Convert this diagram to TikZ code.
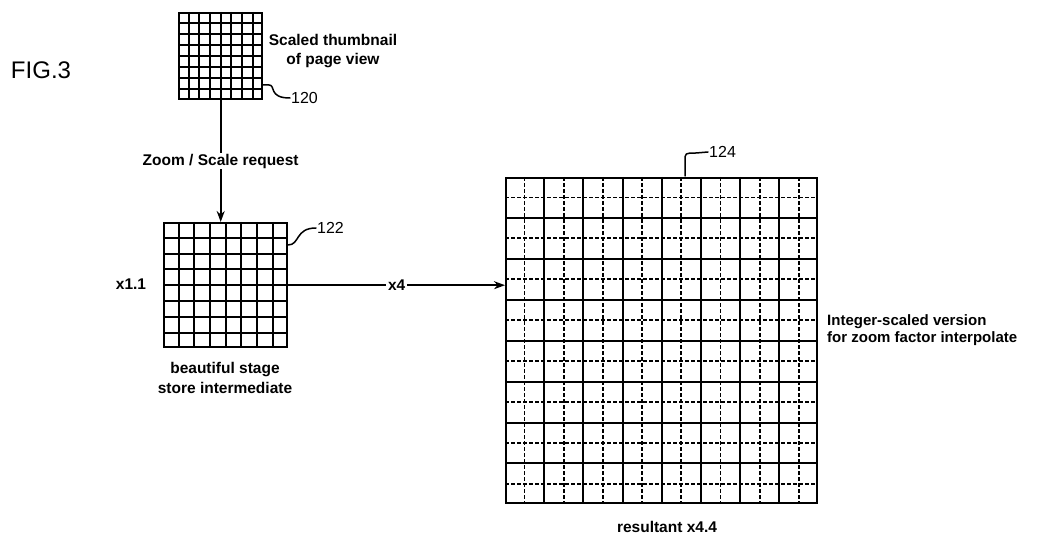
\documentclass[tikz,border=0pt]{standalone}
\usepackage{fontspec}
\setmainfont{Liberation Sans}
\usetikzlibrary{calc,arrows.meta}
\begin{document}
\begin{tikzpicture}[x=1pt,y=-1pt,
  lbl/.style={font=\fontsize{15.5}{19}\selectfont\bfseries, align=center, inner sep=1pt},
  hand/.style={font=\fontsize{16}{18}\selectfont, inner sep=1pt},
  gridbox/.style={draw, line width=2.4pt, inner sep=0pt, anchor=north west},
  gline/.style={line width=2pt},
  dline/.style={line width=1.8pt, dash pattern=on 4pt off 2pt},
  conn/.style={line width=1.8pt},
  arr/.style={conn, -{Stealth[length=11pt,width=8pt]}},
  lead/.style={line width=1.5pt, line cap=round}
]
\useasboundingbox (0,0) rectangle (1047,540);

% thumbnail 120
\node[gridbox, minimum width=83pt, minimum height=86pt] (thumb) at (178,12) {};
\foreach \i in {1,...,7} {
  \draw[gline] ($(thumb.north west)!\i/8!(thumb.north east)$) -- ($(thumb.south west)!\i/8!(thumb.south east)$);
  \draw[gline] ($(thumb.north west)!\i/8!(thumb.south west)$) -- ($(thumb.north east)!\i/8!(thumb.south east)$);
}

% intermediate 122
\node[gridbox, minimum width=123pt, minimum height=124pt] (mid) at (163,222) {};
\foreach \i in {1,...,7} {
  \draw[gline] ($(mid.north west)!\i/8!(mid.north east)$) -- ($(mid.south west)!\i/8!(mid.south east)$);
  \draw[gline] ($(mid.north west)!\i/8!(mid.south west)$) -- ($(mid.north east)!\i/8!(mid.south east)$);
}

% big 124
\node[gridbox, minimum width=311pt, minimum height=325pt] (big) at (505,177) {};
\foreach \i in {1,...,15} {
  \ifodd\i \def\st{dline}\else\def\st{gline}\fi
  \draw[\st] ($(big.north west)!\i/16!(big.north east)$) -- ($(big.south west)!\i/16!(big.south east)$);
  \draw[\st] ($(big.north west)!\i/16!(big.south west)$) -- ($(big.north east)!\i/16!(big.south east)$);
}

% texts
\node[lbl] (tlab) at (333,51) {Scaled thumbnail\\of page view};
\node[lbl] (x11) at (131,284) {x1.1};
\node[lbl, font=\fontsize{15.5}{20}\selectfont\bfseries] (blab) at (225,378) {beautiful stage\\store intermediate};
\node[lbl, anchor=west, align=left, font=\fontsize{15}{17}\selectfont\bfseries] (ilab) at (826,330) {Integer-scaled version\\for zoom factor interpolate};
\node[lbl] (rlab) at (667,527) {resultant x4.4};
\node[hand, font=\fontsize{24}{26}\selectfont] (fig) at (41,70) {FIG.3};
\node[hand, anchor=west] (n120) at (290,98) {120};
\node[hand, anchor=west] (n122) at (316,228) {122};
\node[hand, anchor=west] (n124) at (708,152) {124};

% connectors
\draw[arr] (thumb.south) -- node[lbl, fill=white]{Zoom / Scale request} (thumb.south |- mid.north);
\draw[arr] (mid.east) -- node[lbl, fill=white, inner xsep=2pt]{x4} (mid.east -| big.west);

% leaders
\coordinate (c120) at (262,85);
\coordinate (c122) at (288,245);
\coordinate (c124) at (685,176);
\draw[lead] (c120) -- (269,85) .. controls (276,85) and (268,98) .. (n120.west);
\draw[lead] (c122) .. controls (300,245) and (295,228) .. (n122.west);
\draw[lead] (c124) -- (685,161) .. controls (685,153) .. (696,153) -- (n124.west);
\end{tikzpicture}
\end{document}
